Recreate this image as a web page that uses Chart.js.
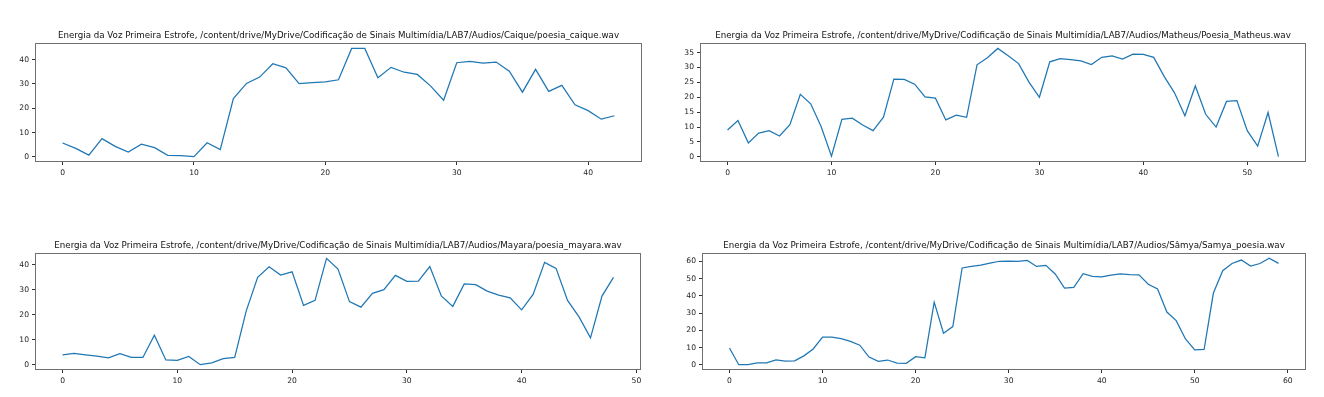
<!DOCTYPE html>
<html>
<head>
<meta charset="utf-8">
<script src="https://cdn.jsdelivr.net/npm/chart.js@4.4.0/dist/chart.umd.min.js"></script>
<style>
  html, body { margin: 0; padding: 0; background: #ffffff; }
  body { width: 1324px; height: 397px; position: relative; overflow: hidden; }
  canvas { position: absolute; }
</style>
</head>
<body>
<canvas id="c0"></canvas>
<canvas id="c1"></canvas>
<canvas id="c2"></canvas>
<canvas id="c3"></canvas>
<script>
// ---- data ----
const titles = [
  "Energia da Voz Primeira Estrofe, /content/drive/MyDrive/Codificação de Sinais Multimídia/LAB7/Audios/Caique/poesia_caique.wav",
  "Energia da Voz Primeira Estrofe, /content/drive/MyDrive/Codificação de Sinais Multimídia/LAB7/Audios/Matheus/Poesia_Matheus.wav",
  "Energia da Voz Primeira Estrofe, /content/drive/MyDrive/Codificação de Sinais Multimídia/LAB7/Audios/Mayara/poesia_mayara.wav",
  "Energia da Voz Primeira Estrofe, /content/drive/MyDrive/Codificação de Sinais Multimídia/LAB7/Audios/Sâmya/Samya_poesia.wav"
];
const caique = [5.7, 3.5, 0.7, 7.5, 4.3, 2.0, 5.2, 3.8, 0.6, 0.5, 0.1, 5.8, 3.0, 24.0, 30.2, 32.8, 38.3, 36.6, 30.1, 30.5, 30.8, 31.7, 44.6, 44.6, 32.5, 36.8, 34.8, 33.9, 29.2, 23.3, 38.7, 39.3, 38.5, 39.0, 35.2, 26.6, 36.0, 26.9, 29.4, 21.4, 19.0, 15.5, 16.9];
const matheus = [9.0, 12.2, 4.7, 8.0, 8.8, 7.0, 10.8, 21.0, 17.8, 10.2, 0.2, 12.6, 13.0, 10.7, 8.8, 13.3, 26.1, 26.0, 24.4, 20.1, 19.7, 12.4, 14.0, 13.3, 30.9, 33.3, 36.4, 33.9, 31.3, 25.1, 20.0, 31.9, 33.0, 32.6, 32.2, 31.0, 33.4, 33.9, 32.8, 34.5, 34.4, 33.4, 27.0, 21.5, 13.8, 23.8, 14.3, 10.0, 18.6, 18.9, 8.8, 3.6, 14.9, 0.1];
const mayara = [4.0, 4.6, 4.0, 3.5, 2.8, 4.5, 3.0, 3.0, 11.9, 2.0, 1.8, 3.4, 0.1, 0.8, 2.5, 3.0, 21.5, 35.0, 39.2, 35.9, 37.2, 23.8, 25.8, 42.6, 38.3, 25.3, 23.1, 28.6, 30.1, 35.8, 33.4, 33.5, 39.3, 27.6, 23.4, 32.4, 32.1, 29.5, 27.9, 26.8, 22.0, 28.2, 41.0, 38.6, 25.8, 19.2, 10.8, 27.5, 35.0];
const samya = [9.8, 0.1, 0.1, 1.2, 1.2, 2.9, 2.2, 2.3, 5.2, 9.2, 16.0, 16.0, 15.2, 13.6, 11.4, 4.5, 2.0, 2.8, 1.0, 0.9, 4.7, 4.1, 36.3, 18.3, 22.2, 56.1, 57.0, 57.8, 58.9, 60.0, 60.1, 59.9, 60.5, 57.0, 57.6, 52.6, 44.4, 44.9, 52.8, 51.2, 51.0, 52.0, 52.7, 52.3, 52.1, 46.7, 43.9, 30.6, 25.6, 15.0, 8.7, 8.9, 41.6, 54.5, 58.7, 60.7, 57.2, 58.7, 61.7, 58.8];
const seriesList = [caique, matheus, mayara, samya];
const xTickSteps = [10, 10, 10, 10];
const yTickSteps = [10, 5, 10, 10];

// ---- layout (plot area boxes in page pixels) ----
const boxes = [
  {l: 35,  t: 43,  r: 642,  b: 162},
  {l: 700, t: 43,  r: 1306, b: 162},
  {l: 35,  t: 253, r: 641,  b: 370},
  {l: 702, t: 253, r: 1306, b: 370}
];
const Y_AXIS_W = 34, X_AXIS_H = 20, TITLE_H = 17;
const TITLE_SIZE = 8.7, TITLE_LH = 1.2, TITLE_PAD_TOP = 5;
const FONT = "DejaVu Sans";

const frameBox = {
  id: 'frameBox',
  afterDatasetsDraw(chart) {
    const a = chart.chartArea, ctx = chart.ctx;
    ctx.save();
    ctx.strokeStyle = '#707070';
    ctx.lineWidth = 1;
    ctx.strokeRect(Math.round(a.left) + 0.5, Math.round(a.top) + 0.5,
                   Math.round(a.right - a.left) - 1, Math.round(a.bottom - a.top) - 1);
    ctx.restore();
  }
};

seriesList.forEach((vals, k) => {
  const bx = boxes[k];
  const cv = document.getElementById('c' + k);
  const pw = bx.r - bx.l, ph = bx.b - bx.t;
  const W = Y_AXIS_W + pw + 4, H = TITLE_H + ph + X_AXIS_H;
  cv.width = W; cv.height = H;
  cv.style.width = W + 'px'; cv.style.height = H + 'px';
  cv.style.left = (bx.l - Y_AXIS_W) + 'px';
  cv.style.top = (bx.t - TITLE_H) + 'px';

  const n = vals.length - 1;
  const ymin = Math.min(...vals), ymax = Math.max(...vals);
  const yr = ymax - ymin;

  new Chart(cv, {
    type: 'line',
    data: {
      datasets: [{
        data: vals.map((v, i) => ({x: i, y: v})),
        borderColor: '#1f77b4',
        borderWidth: 1.25,
        pointRadius: 0,
        tension: 0,
        fill: false
      }]
    },
    options: {
      responsive: false,
      animation: false,
      devicePixelRatio: 1,
      layout: { padding: {left: 0, right: 4, top: 0, bottom: 0} },
      plugins: {
        legend: { display: false },
        tooltip: { enabled: false },
        title: {
          display: true,
          text: titles[k],
          fullSize: false,
          color: '#111',
          font: { family: FONT, size: TITLE_SIZE, weight: 'normal', lineHeight: TITLE_LH },
          padding: { top: TITLE_PAD_TOP, bottom: TITLE_H - TITLE_PAD_TOP - TITLE_SIZE * TITLE_LH }
        }
      },
      scales: {
        x: {
          type: 'linear',
          min: -0.05 * n,
          max: n * 1.05,
          afterFit(s) { s.height = X_AXIS_H; },
          grid: { display: true, drawOnChartArea: false, drawTicks: true, tickLength: 3, tickColor: '#333' },
          border: { display: false },
          ticks: {
            stepSize: xTickSteps[k], includeBounds: false, autoSkip: false,
            maxRotation: 0, padding: 3, color: '#222',
            font: { family: FONT, size: 7.6 },
            callback: v => Number.isInteger(v) ? String(v) : ''
          }
        },
        y: {
          type: 'linear',
          min: ymin - 0.05 * yr,
          max: ymax + 0.05 * yr,
          afterFit(s) { s.width = Y_AXIS_W; },
          grid: { display: true, drawOnChartArea: false, drawTicks: true, tickLength: 3, tickColor: '#333' },
          border: { display: false },
          ticks: {
            stepSize: yTickSteps[k], includeBounds: false, autoSkip: false,
            padding: 3, color: '#222',
            font: { family: FONT, size: 7.6 },
            callback: v => Number.isInteger(v) ? String(v) : ''
          }
        }
      }
    },
    plugins: [frameBox]
  });
});
</script>
</body>
</html>
